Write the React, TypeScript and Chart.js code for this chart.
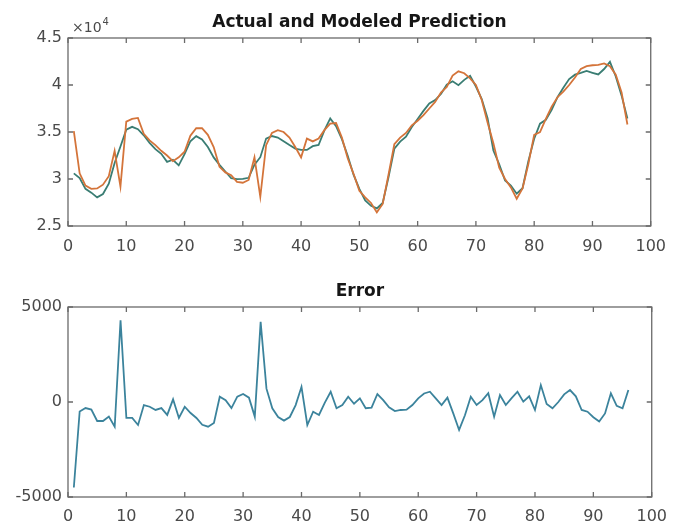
import React, { useEffect, useRef } from "react";
import { Chart, registerables } from "chart.js";

Chart.register(...registerables);

// ---------- data ----------
const sampleIndex = [
  1, 2, 3, 4, 5, 6, 7, 8, 9, 10, 11, 12, 13, 14, 15, 16, 17, 18, 19, 20,
  21, 22, 23, 24, 25, 26, 27, 28, 29, 30, 31, 32, 33, 34, 35, 36, 37, 38, 39, 40,
  41, 42, 43, 44, 45, 46, 47, 48, 49, 50, 51, 52, 53, 54, 55, 56, 57, 58, 59, 60,
  61, 62, 63, 64, 65, 66, 67, 68, 69, 70, 71, 72, 73, 74, 75, 76, 77, 78, 79, 80,
  81, 82, 83, 84, 85, 86, 87, 88, 89, 90, 91, 92, 93, 94, 95, 96,
];

const actualValues = [
  35100, 30600, 29300, 28950, 29000, 29400, 30300, 33000, 29200, 36100,
  36400, 36500, 34800, 34100, 33600, 33000, 32500, 31900, 32300, 32900,
  34600, 35400, 35400, 34700, 33400, 31300, 30700, 30400, 29700, 29600,
  29900, 32300, 28100, 33600, 34900, 35200, 35000, 34400, 33400, 32300,
  34300, 34000, 34300, 35200, 35900, 35950, 34400, 32200, 30550, 28750,
  28050, 27450, 26450, 27350, 30450, 33700, 34400, 34900, 35700, 36200,
  36800, 37500, 38200, 39200, 39800, 41000, 41450, 41250, 40700, 40000,
  38400, 36000, 33800, 31200, 30000, 29100, 27900, 29000, 31600, 34700,
  35000, 36400, 37700, 38700, 39300, 40000, 40800, 41700, 42000, 42100,
  42150, 42300, 42000, 41100, 39200, 35800,
];

const modeledValues = [
  30600, 30100, 28950, 28550, 28050, 28400, 29500, 31700, 33450, 35250,
  35550, 35300, 34650, 33850, 33180, 32680, 31820, 32050, 31450, 32650,
  34020, 34560, 34200, 33400, 32300, 31500, 30800, 30080, 29980, 30020,
  30130, 31530, 32320, 34300, 34570, 34410, 34020, 33610, 33240, 33100,
  33090, 33490, 33620, 35170, 36440, 35620, 34240, 32480, 30460, 28940,
  27720, 27150, 26870, 27450, 30170, 33220, 33980, 34500, 35540, 36390,
  37250, 38040, 38390, 39040, 40030, 40400, 39980, 40550, 40980, 39840,
  38500, 36460, 33030, 31570, 29840, 29300, 28440, 29020, 31900, 34280,
  35890, 36300, 37370, 38700, 39700, 40630, 41100, 41280, 41490, 41300,
  41120, 41700, 42460, 40900, 38870, 36430,
];

const errorValues = [
  -4500, -500, -320, -400, -1000, -1000, -770, -1300, 4300, -840,
  -840, -1210, -160, -250, -420, -320, -680, 140, -840, -250,
  -580, -840, -1200, -1300, -1100, 280, 100, -320, 280, 420,
  230, -770, 4220, 700, -330, -790, -980, -790, -160, 800,
  -1210, -510, -680, -30, 540, -330, -160, 280, -90, 190,
  -330, -300, 420, 100, -280, -480, -420, -400, -160, 190,
  450, 540, 190, -160, 230, -600, -1470, -700, 280, -160,
  100, 460, -770, 370, -160, 200, 540, 20, 300, -420,
  890, -100, -330, 0, 400, 630, 300, -420, -510, -800,
  -1030, -600, 460, -200, -330, 630,
];

const xTickLabels = ["0", "10", "20", "30", "40", "50", "60", "70", "80", "90", "100"];
const topYTickLabels = ["2.5", "3", "3.5", "4", "4.5"];
const bottomYTickLabels = ["-5000", "0", "5000"];

const topTitle = "Actual and Modeled Prediction";
const bottomTitle = "Error";

// ---------- styling ----------
const W = 677;
const TOP_H = 264;
const BOT_H = 265;
const FONT = '"DejaVu Sans", "Liberation Sans", sans-serif';
const TICK_COLOR = "#4a4a4a";
const BOX_COLOR = "#6a6a6a";

const matlabAxes = {
  id: "matlabAxes",
  afterDraw(chart: any, _args: any, opts: any) {
    const { ctx, chartArea: a, scales } = chart;
    ctx.save();
    ctx.strokeStyle = BOX_COLOR;
    ctx.lineWidth = 1.3;
    ctx.strokeRect(a.left, a.top, a.right - a.left, a.bottom - a.top);
    const len = 5;
    ctx.beginPath();
    scales.x.ticks.forEach((t: any) => {
      const px = scales.x.getPixelForValue(t.value);
      ctx.moveTo(px, a.bottom);
      ctx.lineTo(px, a.bottom - len);
      ctx.moveTo(px, a.top);
      ctx.lineTo(px, a.top + len);
    });
    scales.y.ticks.forEach((t: any) => {
      const py = scales.y.getPixelForValue(t.value);
      ctx.moveTo(a.left, py);
      ctx.lineTo(a.left + len, py);
      ctx.moveTo(a.right, py);
      ctx.lineTo(a.right - len, py);
    });
    ctx.stroke();

    ctx.fillStyle = "#161616";
    ctx.font = `bold 17px ${FONT}`;
    ctx.textAlign = "center";
    ctx.textBaseline = "alphabetic";
    ctx.fillText(opts.title, (a.left + a.right) / 2, a.top - opts.titleGap);

    if (opts.exponent) {
      ctx.fillStyle = TICK_COLOR;
      ctx.textAlign = "left";
      ctx.font = `14px ${FONT}`;
      ctx.fillText("\u00d710", a.left + 4, a.top - 6);
      const w = ctx.measureText("\u00d710").width;
      ctx.font = `10px ${FONT}`;
      ctx.fillText(opts.exponent, a.left + 4 + w + 1, a.top - 13);
    }
    ctx.restore();
  },
};

function makeXAxis(padding: number, height: number) {
  return {
    type: "linear" as const,
    min: 0,
    max: 100,
    grid: { display: false, drawTicks: false },
    border: { display: false },
    ticks: {
      stepSize: 10,
      padding,
      color: TICK_COLOR,
      font: { family: FONT, size: 16 },
      maxRotation: 0,
      callback: (_v: any, i: number) => xTickLabels[i],
    },
    afterFit: (s: any) => {
      s.height = height;
    },
  };
}

function makeYAxis(min: number, max: number, step: number, labels: string[]) {
  return {
    type: "linear" as const,
    min,
    max,
    grid: { display: false, drawTicks: false },
    border: { display: false },
    ticks: {
      stepSize: step,
      padding: 6,
      color: TICK_COLOR,
      font: { family: FONT, size: 16 },
      callback: (_v: any, i: number) => labels[i],
    },
    afterFit: (s: any) => {
      s.width = 68;
    },
  };
}

export default function App() {
  const topRef = useRef<HTMLCanvasElement | null>(null);
  const botRef = useRef<HTMLCanvasElement | null>(null);

  useEffect(() => {
    const toPts = (ys: number[]) => sampleIndex.map((x, i) => ({ x, y: ys[i] }));

    const top = new Chart(topRef.current as HTMLCanvasElement, {
      type: "line",
      data: {
        datasets: [
          {
            label: "Actual",
            data: toPts(actualValues),
            borderColor: "#d4743a",
            borderWidth: 1.8,
            pointRadius: 0,
            tension: 0,
          },
          {
            label: "Modeled",
            data: toPts(modeledValues),
            borderColor: "#3a7d73",
            borderWidth: 1.8,
            pointRadius: 0,
            tension: 0,
          },
        ],
      },
      options: {
        animation: false,
        responsive: false,
        maintainAspectRatio: false,
        layout: { padding: { left: 0, right: 16, top: 38, bottom: 0 } },
        plugins: {
          legend: { display: false },
          tooltip: { enabled: false },
          title: { display: false },
          matlabAxes: { title: topTitle, titleGap: 11, exponent: "4" },
        } as any,
        scales: {
          x: makeXAxis(11, 38),
          y: makeYAxis(25000, 45000, 5000, topYTickLabels),
        } as any,
      },
      plugins: [matlabAxes],
    });

    const bot = new Chart(botRef.current as HTMLCanvasElement, {
      type: "line",
      data: {
        datasets: [
          {
            label: "Error",
            data: toPts(errorValues),
            borderColor: "#3b839c",
            borderWidth: 1.8,
            pointRadius: 0,
            tension: 0,
          },
        ],
      },
      options: {
        animation: false,
        responsive: false,
        maintainAspectRatio: false,
        layout: { padding: { left: 0, right: 16, top: 43, bottom: 0 } },
        plugins: {
          legend: { display: false },
          tooltip: { enabled: false },
          title: { display: false },
          matlabAxes: { title: bottomTitle, titleGap: 11 },
        } as any,
        scales: {
          x: makeXAxis(10, 32),
          y: makeYAxis(-5000, 5000, 5000, bottomYTickLabels),
        } as any,
      },
      plugins: [matlabAxes],
    });

    return () => {
      top.destroy();
      bot.destroy();
    };
  }, []);

  return (
    <div
      style={{
        position: "fixed",
        left: 0,
        top: 0,
        width: W,
        height: TOP_H + BOT_H,
        background: "#ffffff",
      }}
    >
      <canvas
        ref={topRef}
        width={W}
        height={TOP_H}
        style={{ position: "absolute", left: 0, top: 0, width: W, height: TOP_H }}
      />
      <canvas
        ref={botRef}
        width={W}
        height={BOT_H}
        style={{ position: "absolute", left: 0, top: TOP_H, width: W, height: BOT_H }}
      />
    </div>
  );
}
